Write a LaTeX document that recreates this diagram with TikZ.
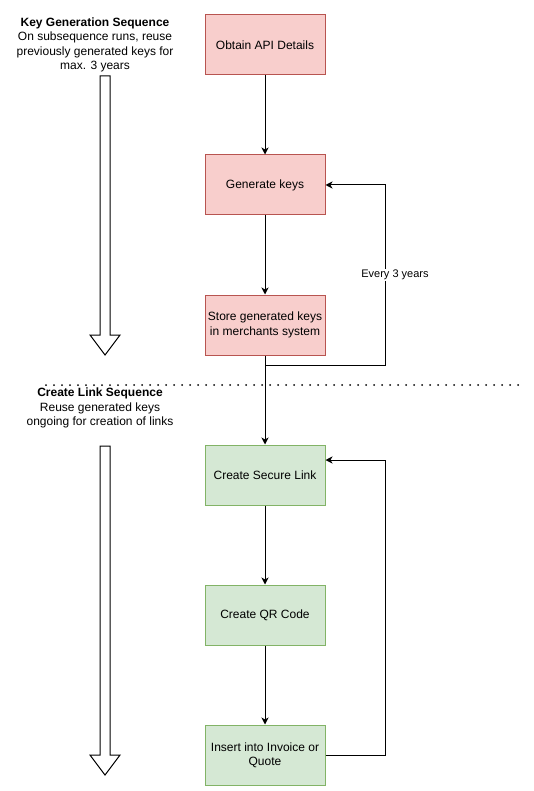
\documentclass[tikz,border=0pt]{standalone}
\usepackage{fontspec}
\setmainfont{Liberation Sans}
\usetikzlibrary{arrows.meta}
\definecolor{redfill}{HTML}{F8CECC}
\definecolor{redline}{HTML}{B85450}
\definecolor{greenfill}{HTML}{D5E8D4}
\definecolor{greenline}{HTML}{82B366}
\begin{document}
\begin{tikzpicture}[x=1pt,y=-1pt,
  box/.style={draw, line width=1pt, minimum width=120pt, minimum height=60pt, inner sep=2pt, align=center, font=\fontsize{12}{14.4}\selectfont},
  redbox/.style={box, fill=redfill, draw=redline},
  greenbox/.style={box, fill=greenfill, draw=greenline},
  arr/.style={draw, line width=1pt, -{Stealth[length=7pt,width=7pt,inset=2pt]}},
  conn/.style={draw, line width=1pt},
  heading/.style={align=center, font=\fontsize{12}{14.6}\selectfont, inner sep=0pt},
  blockarrow/.style={draw, line width=1pt, fill=white, line join=miter},
  dotline/.style={draw, line width=2pt, dash pattern=on 0pt off 8pt, line cap=round}
]
\useasboundingbox (0,0) rectangle (533,791);
\fill[white] (0,0) rectangle (533,791);

% headings
\node[heading] (h1) at (95,45) {\textbf{Key Generation Sequence}\\On subsequence runs, reuse\\previously generated keys for\\max. 3 years};
\node[heading] (h2) at (100,408) {\textbf{Create Link Sequence}\\Reuse generated keys\\ongoing for creation of links};

% block arrows
\draw[blockarrow] (100,76) -- (110,76) -- (110,335) -- (120,335) -- (105,355) -- (90,335) -- (100,335) -- cycle;
\draw[blockarrow] (100,446) -- (110,446) -- (110,755) -- (120,755) -- (105,775) -- (90,755) -- (100,755) -- cycle;

% separator
\coordinate (s1) at (46,385);
\coordinate (s2) at (520,385);
\draw[dotline] (s1) -- (s2);

% boxes
\node[redbox] (b1) at (265,45) {Obtain API Details};
\node[redbox] (b2) at (265,185) {Generate keys};
\node[redbox] (b3) at (265,325) {Store generated keys\\in merchants system};
\node[greenbox] (b4) at (265,475) {Create Secure Link};
\node[greenbox] (b5) at (265,615) {Create QR Code};
\node[greenbox] (b6) at (265,755) {Insert into Invoice or\\Quote};

% connectors
\draw[arr] (b1) -- (b2);
\draw[arr] (b2) -- (b3);
\draw[arr] (b3) -- (b4);
\draw[arr] (b4) -- (b5);
\draw[arr] (b5) -- (b6);

\coordinate (j1) at (265,365);
\coordinate (c1) at (385,365);
\draw[arr] (j1) -- (c1) |- (b2.east);
\node[fill=white, inner sep=1pt, font=\fontsize{11}{13}\selectfont] (lbl) at (395,275) {Every 3 years};

\coordinate (c2) at (385,755);
\draw[arr] (b6.east) -- (c2) |- ([yshift=15pt]b4.east);
\end{tikzpicture}
\end{document}
